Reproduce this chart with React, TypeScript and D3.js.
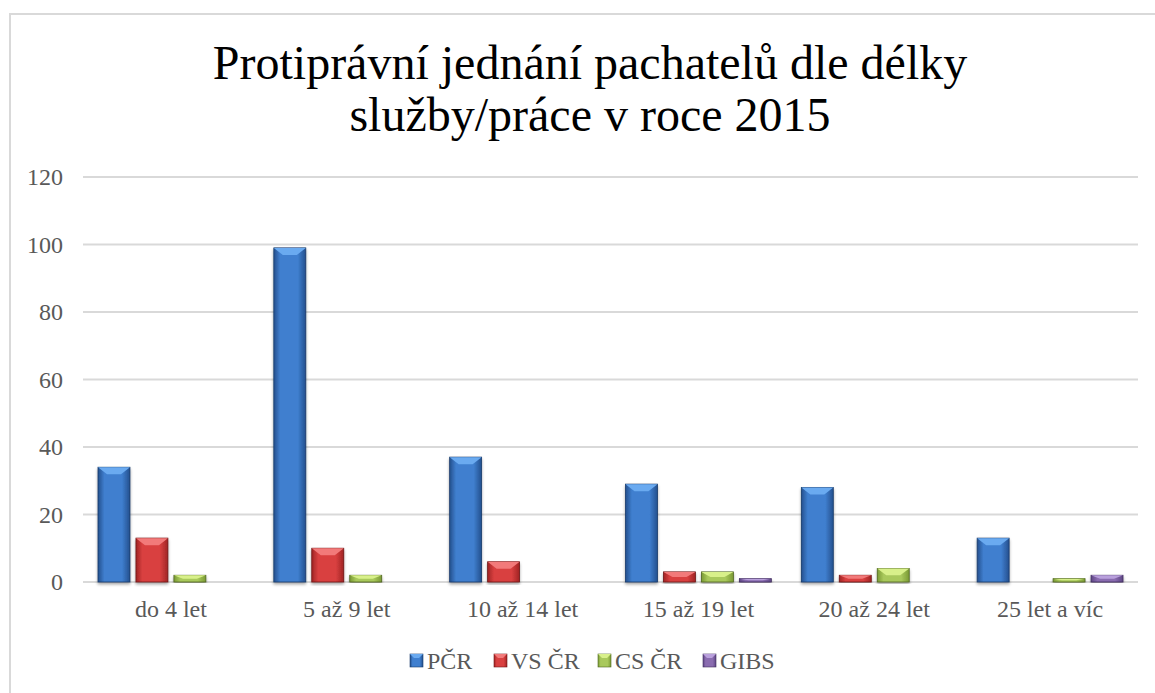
import React from "react";
import * as d3 from "d3";

const categories = ["do 4 let", "5 až 9 let", "10 až 14 let", "15 až 19 let", "20 až 24 let", "25 let a víc"];
const seriesNames = ["PČR", "VS ČR", "CS ČR", "GIBS"];
const pcr = [34, 99, 37, 29, 28, 13];
const vscr = [13, 10, 6, 3, 2, 0];
const cscr = [2, 2, 0, 3, 4, 1];
const gibs = [0, 0, 0, 1, 0, 2];
const yTicks = [0, 20, 40, 60, 80, 100, 120];
const titleLines = ["Protiprávní jednání pachatelů dle délky", "služby/práce v roce 2015"];

const seriesValues = [pcr, vscr, cscr, gibs];
const palettes = [
  { mid: "#3f7fcf", edge: "#24508e", top: "#6aaaf0", line: "#173a6a" },
  { mid: "#d94040", edge: "#a02424", top: "#f27a7a", line: "#6e1515" },
  { mid: "#a9c95c", edge: "#7a9a34", top: "#d8f08a", line: "#4e6420" },
  { mid: "#8a6cb0", edge: "#5e4685", top: "#b9a0dc", line: "#3e2c5c" },
];

const W = 1155;
const H = 693;
const left = 83;
const right = 1138;
const top = 177;
const bottom = 582;
const FONT = "Liberation Serif, Times New Roman, DejaVu Serif, serif";

export default function App() {
  const x0 = d3.scaleBand<string>().domain(categories).range([left, right]).paddingInner(0).paddingOuter(0);
  const step = x0.bandwidth();
  const x1 = d3
    .scaleBand<string>()
    .domain(seriesNames)
    .range([15, step - 15])
    .paddingInner(0.158)
    .paddingOuter(0);
  const y = d3.scaleLinear().domain([0, 120]).range([bottom, top]);
  const bw = x1.bandwidth();

  const legendItems = seriesNames.map((n, i) => ({ n, i }));
  const legendX = [410, 494, 598, 703];
  const ts = { fontFamily: FONT };

  return (
    <svg width={W} height={H} style={{ position: "absolute", left: 0, top: 0, fontFamily: FONT }}>
      <defs>
        {palettes.map((p, i) => (
          <linearGradient key={i} id={`g${i}`} x1="0" x2="1" y1="0" y2="0">
            <stop offset="0" stopColor={p.edge} />
            <stop offset="0.2" stopColor={p.mid} />
            <stop offset="0.75" stopColor={p.mid} />
            <stop offset="1" stopColor={p.edge} />
          </linearGradient>
        ))}
        <filter id="sh" x="-20%" y="-5%" width="140%" height="115%">
          <feGaussianBlur in="SourceAlpha" stdDeviation="1.5" />
          <feOffset dx="0" dy="1.5" result="b" />
          <feComponentTransfer>
            <feFuncA type="linear" slope="0.35" />
          </feComponentTransfer>
          <feMerge>
            <feMergeNode />
            <feMergeNode in="SourceGraphic" />
          </feMerge>
        </filter>
      </defs>
      <rect x={0} y={0} width={W} height={H} fill="#fff" />
      <path d={`M10,${H} L10,14 L${W},14`} fill="none" stroke="#d9d9d9" strokeWidth={2} />

      {titleLines.map((t, i) => (
        <text key={i} x={590} y={79 + i * 52} textAnchor="middle" fontSize={48} fill="#000" style={ts}>
          {t}
        </text>
      ))}

      {yTicks.map((t) => (
        <g key={t}>
          <line x1={left} x2={right} y1={y(t)} y2={y(t)} stroke="#d9d9d9" strokeWidth={2} />
          <text x={63} y={y(t) + 8} textAnchor="end" fontSize={24} fill="#595959" style={ts}>
            {t}
          </text>
        </g>
      ))}

      {categories.map((c, ci) => (
        <g key={c}>
          {seriesNames.map((s, si) => {
            const v = seriesValues[si][ci];
            if (!v) return null;
            const bx = (x0(c) as number) + (x1(s) as number);
            const by = y(v);
            const h = y(0) - by;
            const p = palettes[si];
            const bev = Math.min(7, h / 2);
            const inset = Math.min(9, bw / 3);
            return (
              <g key={s} filter="url(#sh)">
                <rect x={bx} y={by} width={bw} height={h} fill={`url(#g${si})`} stroke={p.line} strokeWidth={0.8} />
                <polygon
                  points={`${bx},${by} ${bx + bw},${by} ${bx + bw - inset},${by + bev} ${bx + inset},${by + bev}`}
                  fill={p.top}
                />
              </g>
            );
          })}
          <text x={(x0(c) as number) + step / 2} y={617} textAnchor="middle" fontSize={24} fill="#595959" style={ts}>
            {c}
          </text>
        </g>
      ))}

      {legendItems.map(({ n, i }) => {
        const p = palettes[i];
        const lx = legendX[i];
        return (
          <g key={n}>
            <rect x={lx} y={654} width={13} height={13} fill={`url(#g${i})`} stroke={p.line} strokeWidth={0.6} />
            <polygon points={`${lx},654 ${lx + 13},654 ${lx + 9},658 ${lx + 4},658`} fill={p.top} />
            <text x={lx + 17} y={669} fontSize={24} fill="#595959" style={ts}>
              {n}
            </text>
          </g>
        );
      })}
    </svg>
  );
}
